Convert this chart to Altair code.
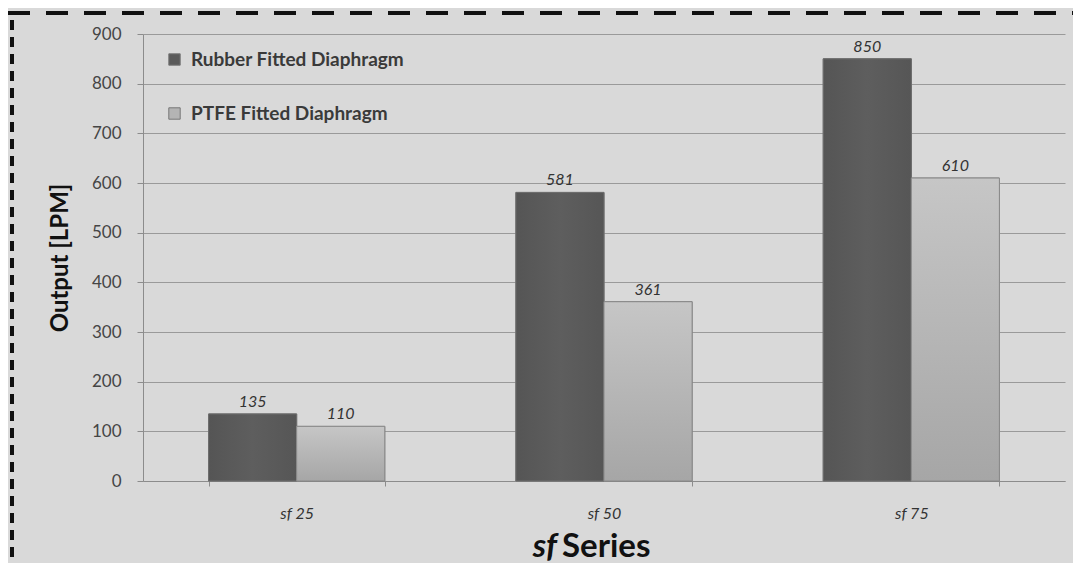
import altair as alt
import pandas as pd

categories = ["sf 25", "sf 50", "sf 75"]
series_names = ["Rubber Fitted Diaphragm", "PTFE Fitted Diaphragm"]
rubber = [135, 581, 850]
ptfe = [110, 361, 610]

rows = []
for c, r, p in zip(categories, rubber, ptfe):
    rows.append({"cat": c, "series": series_names[0], "value": r})
    rows.append({"cat": c, "series": series_names[1], "value": p})
df = pd.DataFrame(rows)

FONT = "Lato"
W, H = 922, 447

x_enc = alt.X("cat:N", sort=categories,
              scale=alt.Scale(paddingInner=0.4267, paddingOuter=0.2134),
              axis=alt.Axis(title=None, labelAngle=0, labelFontStyle="italic",
                            labelFontSize=16, labelColor="#333333", labelPadding=19,
                            tickBand="extent", tickSize=5, tickColor="#8c8c8c",
                            domainColor="#8c8c8c", labelFont=FONT))
xo_enc = alt.XOffset("series:N", sort=series_names)
y_enc = alt.Y("value:Q", scale=alt.Scale(domain=[0, 900]),
              axis=alt.Axis(values=list(range(0, 901, 100)), title="Output [LPM]",
                            titleFont=FONT, titleFontSize=24, titleFontWeight="bold",
                            titleColor="#111111", titlePadding=19,
                            labelFont=FONT, labelFontSize=17, labelColor="#454545",
                            labelPadding=16, tickSize=6, tickColor="#8c8c8c",
                            domainColor="#8c8c8c", gridColor="#9a9a9a",
                            gridWidth=1))

bars = alt.Chart(df).mark_bar(stroke="#7a7a7a", strokeWidth=1).encode(
    x=x_enc, xOffset=xo_enc, y=y_enc,
    color=alt.Color("series:N", sort=series_names,
                    scale=alt.Scale(domain=series_names, range=["#5a5a5a", "#b4b4b4"]),
                    legend=alt.Legend(title=None, orient="none", legendX=22, legendY=16,
                                      symbolType="square", symbolSize=130,
                                      symbolStrokeColor="#777777", symbolStrokeWidth=1,
                                      labelFont=FONT, labelFontSize=19, labelLimit=500,
                                      labelFontWeight="bold", labelColor="#3a3a3a",
                                      rowPadding=34, labelOffset=7))
)

rubber_grad = alt.Gradient(gradient="linear", x1=0, x2=1, y1=0, y2=0,
                           stops=[alt.GradientStop(offset=0, color="#555555"),
                                  alt.GradientStop(offset=0.5, color="#5e5e5e"),
                                  alt.GradientStop(offset=1, color="#565656")])
ptfe_grad = alt.Gradient(gradient="linear", x1=0, x2=0, y1=0, y2=1,
                         stops=[alt.GradientStop(offset=0, color="#c6c6c6"),
                                alt.GradientStop(offset=1, color="#a6a6a6")])

bars_r = alt.Chart(df).transform_filter(alt.datum.series == series_names[0]).mark_bar(
    color=rubber_grad, stroke="#6e6e6e", strokeWidth=1).encode(
    x=alt.X("cat:N", sort=categories), xOffset=xo_enc, y="value:Q")
bars_p = alt.Chart(df).transform_filter(alt.datum.series == series_names[1]).mark_bar(
    color=ptfe_grad, stroke="#8a8a8a", strokeWidth=1).encode(
    x=alt.X("cat:N", sort=categories), xOffset=xo_enc, y="value:Q")

labels = alt.Chart(df).mark_text(dy=-4, baseline="bottom", fontStyle="italic",
                                 fontSize=16, font=FONT, color="#333333").encode(
    x=alt.X("cat:N", sort=categories), xOffset=xo_enc, y="value:Q",
    text=alt.Text("value:Q")
)

one = pd.DataFrame({"a": [0]})
title_sf = alt.Chart(one).mark_text(text="sf", align="right", baseline="alphabetic",
                                    font=FONT, fontSize=33, fontWeight="bold",
                                    fontStyle="italic", color="#111111").encode(
    x=alt.value(414), y=alt.value(523))
title_series = alt.Chart(one).mark_text(text="Series", align="left", baseline="alphabetic",
                                        font=FONT, fontSize=33, fontWeight="bold",
                                        color="#111111").encode(
    x=alt.value(419), y=alt.value(523))

top_dash = alt.Chart(one).mark_rule(color="#111111", strokeWidth=4,
                                    strokeDash=[22, 16]).encode(
    x=alt.value(-135), x2=alt.value(W + 10), y=alt.value(-21))
left_dash = alt.Chart(one).mark_rule(color="#111111", strokeWidth=4,
                                     strokeDash=[10, 7]).encode(
    x=alt.value(-131), y=alt.value(-14), y2=alt.value(H + 82))

chart = alt.layer(bars, bars_r, bars_p, labels, title_sf, title_series,
                  top_dash, left_dash).properties(
    width=W, height=H,
    background="#d9d9d9",
    padding={"left": 135, "top": 26, "right": 8, "bottom": 82},
    autosize=alt.AutoSizeParams(type="none"),
).configure_view(stroke=None).configure_axisX(grid=False)

chart.save("out.html", embed_options={"renderer": "svg", "actions": False})
